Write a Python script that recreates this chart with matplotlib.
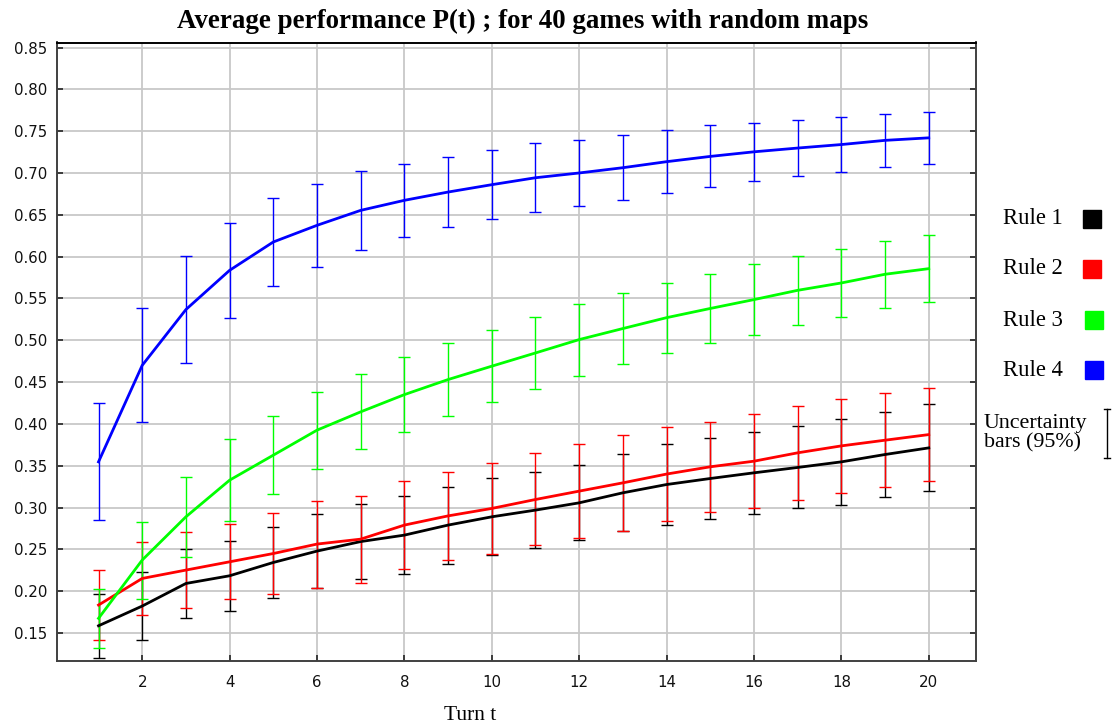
import matplotlib
matplotlib.use("Agg")
import matplotlib.pyplot as plt
from matplotlib.patches import Rectangle
from matplotlib.lines import Line2D
import numpy as np

turns = list(range(1, 21))

rule1_mean = [0.1586, 0.1822, 0.2092, 0.2184, 0.2343, 0.2479, 0.2593, 0.2670, 0.2790, 0.2889,
              0.2969, 0.3056, 0.3176, 0.3275, 0.3347, 0.3415, 0.3479, 0.3546, 0.3634, 0.3713]
rule1_err = [0.038, 0.041, 0.041, 0.042, 0.043, 0.044, 0.045, 0.047, 0.046, 0.046,
             0.045, 0.045, 0.046, 0.048, 0.049, 0.049, 0.049, 0.051, 0.051, 0.052]

rule2_mean = [0.1834, 0.2152, 0.2252, 0.2351, 0.2450, 0.2563, 0.2622, 0.2790, 0.2900, 0.2989,
              0.3096, 0.3196, 0.3295, 0.3400, 0.3487, 0.3554, 0.3654, 0.3737, 0.3805, 0.3872]
rule2_err = [0.042, 0.044, 0.045, 0.045, 0.048, 0.052, 0.052, 0.053, 0.053, 0.054,
             0.055, 0.056, 0.057, 0.056, 0.054, 0.056, 0.056, 0.056, 0.056, 0.056]

rule3_mean = [0.1675, 0.2372, 0.2889, 0.3327, 0.3626, 0.3925, 0.4144, 0.4350, 0.4530, 0.4690,
              0.4848, 0.5008, 0.5140, 0.5270, 0.5380, 0.5486, 0.5597, 0.5685, 0.5789, 0.5856]
rule3_err = [0.035, 0.046, 0.048, 0.049, 0.047, 0.046, 0.045, 0.045, 0.044, 0.043,
             0.043, 0.043, 0.042, 0.042, 0.041, 0.042, 0.041, 0.041, 0.040, 0.040]

rule4_mean = [0.3546, 0.4700, 0.5367, 0.5836, 0.6175, 0.6374, 0.6553, 0.6673, 0.6772, 0.6860,
              0.6943, 0.7000, 0.7063, 0.7135, 0.7198, 0.7253, 0.7298, 0.7340, 0.7390, 0.7420]
rule4_err = [0.070, 0.068, 0.064, 0.057, 0.053, 0.050, 0.047, 0.044, 0.042, 0.041,
             0.041, 0.040, 0.039, 0.0375, 0.037, 0.035, 0.033, 0.033, 0.032, 0.0315]

series_names = ["Rule 1", "Rule 2", "Rule 3", "Rule 4"]
series_colors = ["#000000", "#ff0000", "#00ff00", "#0000ff"]
means = [rule1_mean, rule2_mean, rule3_mean, rule4_mean]
errs = [rule1_err, rule2_err, rule3_err, rule4_err]

x_ticks = list(range(2, 21, 2))
y_ticks = [0.15, 0.20, 0.25, 0.30, 0.35, 0.40, 0.45, 0.50, 0.55, 0.60, 0.65, 0.70, 0.75, 0.80, 0.85]

title_text = "Average performance P(t) ; for 40 games with random maps"
xlabel_text = "Turn t"
unc_text = "Uncertainty\nbars (95%)"

W, H = 1112, 725
fig = plt.figure(figsize=(W / 100, H / 100), dpi=100)
ax = fig.add_axes([57 / W, 1 - 661 / H, (975.5 - 57) / W, (661 - 42.5) / H])

for m, e, c in zip(means, errs, series_colors):
    ax.errorbar(turns, m, yerr=e, fmt="none", ecolor=c, elinewidth=1.0,
                capsize=4.2, capthick=1.0, zorder=3)
    ax.plot(turns, m, color=c, lw=2.0, zorder=4)

ax.set_xlim(0.05, 21.07)
ax.set_ylim(0.1165, 0.856)
ax.set_xticks(x_ticks)
ax.set_xticklabels([str(t) for t in x_ticks])
ax.set_yticks(y_ticks)
ax.set_yticklabels([f"{v:.2f}" for v in y_ticks])
ax.grid(True, color="#c8c8c8", lw=1.3, zorder=0)
ax.set_axisbelow(True)
ax.tick_params(axis="both", direction="in", length=4, width=1.2, color="#222222",
               labelsize=10.8, labelcolor="#111111", pad=7)
ax.tick_params(axis="y", right=True)
ax.tick_params(axis="x", top=False, pad=10)
for s in ax.spines.values():
    s.set_color("#404040")
    s.set_linewidth(1.4)
ax.spines["top"].set_color("#000000")

fig.text(523 / W, 1 - 21 / H, title_text, ha="center", va="center",
         family="Liberation Serif", fontweight="bold", fontsize=19.4)
fig.text(470 / W, 1 - 715 / H, xlabel_text, ha="center", va="center",
         family="Liberation Serif", fontsize=15.5)

leg_y = [219, 269, 320, 370]
sq_x = [1083, 1083, 1085, 1085]
for name, c, yy, sx in zip(series_names, series_colors, leg_y, sq_x):
    fig.text(1003 / W, 1 - yy / H, name, ha="left", va="center",
             family="Liberation Serif", fontsize=16.3)
    fig.patches.append(Rectangle((sx / W, 1 - (yy + 9) / H), 18 / W, 18 / H,
                                 transform=fig.transFigure, color=c, figure=fig))

fig.text(984 / W, 1 - 433 / H, unc_text, ha="left", va="center",
         family="Liberation Serif", fontsize=15.8, linespacing=1.05)
bx = 1107
fig.lines.append(Line2D([bx / W, bx / W], [1 - 409 / H, 1 - 458 / H],
                        transform=fig.transFigure, color="black", lw=1.0))
for yy in (409, 458):
    fig.lines.append(Line2D([(bx - 3) / W, (bx + 3) / W], [1 - yy / H, 1 - yy / H],
                            transform=fig.transFigure, color="black", lw=1.0))

fig.savefig("out.png", dpi=100)
